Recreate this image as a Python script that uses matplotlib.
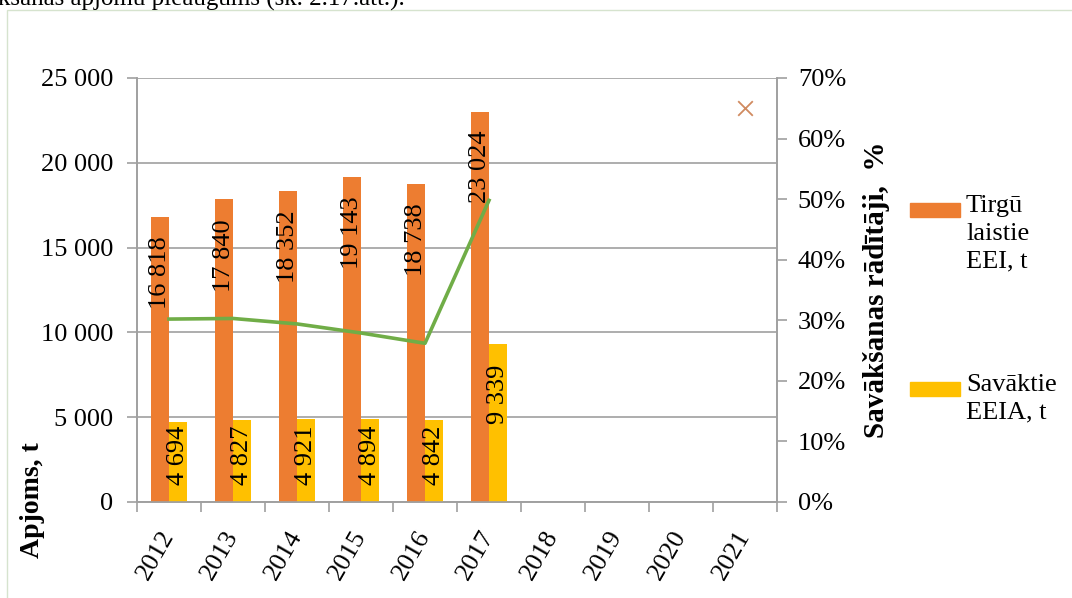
import numpy as np
import matplotlib.pyplot as plt
from matplotlib.patches import Rectangle

# dati
gadi = ['2012', '2013', '2014', '2015', '2016', '2017', '2018', '2019', '2020', '2021']
tirgu_eei = [16818, 17840, 18352, 19143, 18738, 23024]      # Tirgū laistie EEI, t
savaktie_eeia = [4694, 4827, 4921, 4894, 4842, 9339]        # Savāktie EEIA, t
radit = [30.2, 30.3, 29.4, 27.9, 26.2, 49.8]                # savākšanas rādītājs, %
merkis_gads = ['2021']
merkis = [65.0]

c_or = '#ED7D31'
c_ye = '#FFC000'
c_gr = '#70AD47'
c_x = '#D08A60'
c_grid = '#A0A0A0'

def fmt(v):
    return f'{v:,}'.replace(',', ' ')

plt.rcParams['font.family'] = ['Liberation Serif', 'DejaVu Serif']
plt.rcParams['font.size'] = 19

fig = plt.figure(figsize=(10.72, 5.98), dpi=100)
ax = fig.add_axes([137/1072, 1-502/598, 640/1072, 424/598])
ax2 = ax.twinx()

x = np.arange(len(gadi))
w = 0.28
n = len(tirgu_eei)
b1 = ax.bar(x[:n] - w/2, tirgu_eei, w, color=c_or, zorder=3)
b2 = ax.bar(x[:n] + w/2, savaktie_eeia, w, color=c_ye, zorder=3)

for xi, v in zip(x[:n] - w/2, tirgu_eei):
    ax.annotate(fmt(v), (xi, v), xytext=(0, -14), textcoords='offset points',
                rotation=90, ha='center', va='top', fontsize=19, zorder=5)
for xi, v in zip(x[:n] + w/2, savaktie_eeia):
    if v > 6000:
        ax.annotate(fmt(v), (xi, v), xytext=(0, -15), textcoords='offset points',
                    rotation=90, ha='center', va='top', fontsize=19, zorder=5)
    else:
        ax.annotate(fmt(v), (xi, 0), xytext=(0, 12), textcoords='offset points',
                    rotation=90, ha='center', va='bottom', fontsize=19, zorder=5)

ax2.plot(x[:n], radit, color=c_gr, lw=2.6, zorder=4)
ax2.scatter([gadi.index(g) for g in merkis_gads], merkis, marker='x', s=110,
            color=c_x, linewidths=1.3, zorder=4)

ax.set_xlim(-0.5, len(gadi) - 0.5)
ax.set_ylim(0, 25000)
ax.set_yticks(np.arange(0, 25001, 5000))
ax.set_yticklabels([fmt(v) for v in range(0, 25001, 5000)])
ax.yaxis.grid(True, color=c_grid, lw=1.2, zorder=0)
ax.set_axisbelow(True)
ax.set_xticks(np.arange(-0.5, len(gadi), 1))
ax.set_xticklabels([])
ax.set_xticks(x, minor=True)
ax.set_xticklabels(gadi, minor=True, rotation=60, ha='right', va='center',
                   rotation_mode='anchor')
ax.tick_params(axis='x', which='minor', length=0, pad=22)
ax.tick_params(axis='x', which='major', length=7, color=c_grid, width=1.2)
ax.tick_params(axis='y', length=7, color=c_grid, width=1.2, pad=10)

ax2.set_ylim(0, 70)
ax2.set_yticks(np.arange(0, 71, 10))
ax2.set_yticklabels([f'{v}%' for v in range(0, 71, 10)])
ax2.tick_params(axis='y', length=7, color=c_grid, width=1.2, pad=8)

for a in (ax, ax2):
    a.spines['top'].set_visible(False)
    for s in ('left', 'right', 'bottom'):
        a.spines[s].set_color(c_grid)
        a.spines[s].set_linewidth(1.2)

ax.set_ylabel('Apjoms, t', fontweight='bold', fontsize=20)
ax.yaxis.set_label_coords(-0.143, 0.005)
ax.yaxis.label.set_va('bottom')
ax2.set_ylabel('Savākšanas rādītāji,  %', fontweight='bold', fontsize=21)
ax2.yaxis.set_label_coords(1.135, 0.5)

# leģenda
leg = [(c_or, 'Tirgū\nlaistie\nEEI, t', 210), (c_ye, 'Savāktie\nEEIA, t', 389)]
for col, txt, yp in leg:
    fig.patches.append(Rectangle((910/1072, 1 - (yp + 7)/598), 50/1072, 14/598,
                                 transform=fig.transFigure, color=col))
    fig.text(966/1072, 1 - (yp - 15)/598, txt, va='top', ha='left',
             fontsize=19, linespacing=1.35)

# ārējais rāmis un nogrieztais teksts virs attēla
fig.patches.append(Rectangle((7/1072, -0.1), 1.2, 1 - 10/598 + 0.1,
                             transform=fig.transFigure, fill=False,
                             edgecolor='#D6E3CE', lw=1.0))
fig.text(-2/1072, 1 - 6/598, 'kšanas apjomu pieaugums (sk. 2.17.att.).',
         ha='left', va='baseline', fontsize=18)

fig.savefig('out.png', dpi=100)
